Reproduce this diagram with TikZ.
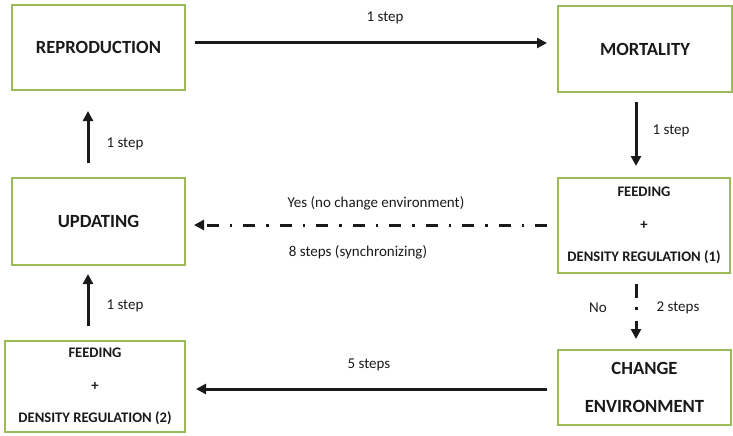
\documentclass[tikz,border=0pt]{standalone}
\usepackage{fontspec}
\setmainfont{Carlito}
\usetikzlibrary{arrows.meta}
\definecolor{boxgreen}{HTML}{9BBB59}
\definecolor{ink}{HTML}{1A1A1A}
\tikzset{
  stage/.style={draw=boxgreen, line width=2pt, fill=white, inner sep=0pt, text=ink,
    align=center, font=\fontsize{18.6}{24}\selectfont\bfseries},
  smallstage/.style={stage, font=\fontsize{14.6}{32.5}\selectfont\bfseries},
  lbl/.style={inner sep=0pt, text=ink, font=\fontsize{15}{18}\selectfont},
  flow/.style={draw=ink, line width=3pt, -{Triangle[length=10pt,width=10pt]}},
  dashdotflow/.style={flow, dash pattern=on 12pt off 11pt on 2.5pt off 11pt},
}
\begin{document}
\begin{tikzpicture}[x=1pt,y=-1pt]
\useasboundingbox (0,0) rectangle (733,436);

% stages of one time step
\node[stage, minimum width=173pt, minimum height=85pt] (rep) at (98.5,47.5) {REPRODUCTION};
\node[stage, minimum width=174pt, minimum height=86pt] (mort) at (645,49) {MORTALITY};
\node[smallstage, minimum width=172pt, minimum height=95pt] (feedA) at (644,225.5)
  {FEEDING\\+\\DENSITY REGULATION (1)};
\node[stage, minimum width=173pt, minimum height=87pt] (upd) at (98.5,221.5) {UPDATING};
\node[stage, font=\fontsize{18.6}{38}\selectfont\bfseries,
  minimum width=173pt, minimum height=75pt] (chg) at (644.5,387.5) {CHANGE\\ENVIRONMENT};
\node[smallstage, minimum width=180pt, minimum height=91pt] (feedB) at (95,386.5)
  {FEEDING\\+\\DENSITY REGULATION (2)};

% transitions
\draw[flow] ([xshift=9pt,yshift=4.5pt]rep.east) -- ([xshift=-10pt,yshift=6pt]mort.west);
\draw[flow] ([xshift=-9pt,yshift=-9pt]mort.south) -- ([xshift=-8pt,yshift=11pt]feedA.north);
\draw[dashdotflow] ([xshift=-10pt,yshift=0.5pt]feedA.west) -- ([xshift=8pt,yshift=-3.5pt]upd.east);
\draw[flow, dash pattern=on 14pt off 9pt on 2.5pt off 11pt]
  ([xshift=-8pt,yshift=-10pt]feedA.south) -- ([xshift=-8.5pt,yshift=10pt]chg.north);
\draw[flow] ([xshift=-10pt,yshift=-1.5pt]chg.west) -- ([xshift=10pt,yshift=-2.5pt]feedB.east);
\draw[flow] ([xshift=-10.5pt,yshift=14pt]upd.north) -- ([xshift=-10.5pt,yshift=-20pt]rep.south);
\draw[flow] ([xshift=-7pt,yshift=14pt]feedB.north) -- ([xshift=-10.5pt,yshift=-8pt]upd.south);

% transition labels
\node[lbl] (l1) at (385,18) {1 step};
\node[lbl] (l2) at (671,131) {1 step};
\node[lbl] (l3) at (376,203) {Yes (no change environment)};
\node[lbl] (l4) at (358,252) {8 steps (synchronizing)};
\node[lbl] (l5) at (598,308) {No};
\node[lbl] (l6) at (678,308) {2 steps};
\node[lbl] (l7) at (369,365) {5 steps};
\node[lbl] (l8) at (125,144) {1 step};
\node[lbl] (l9) at (125,306) {1 step};
\end{tikzpicture}
\end{document}
